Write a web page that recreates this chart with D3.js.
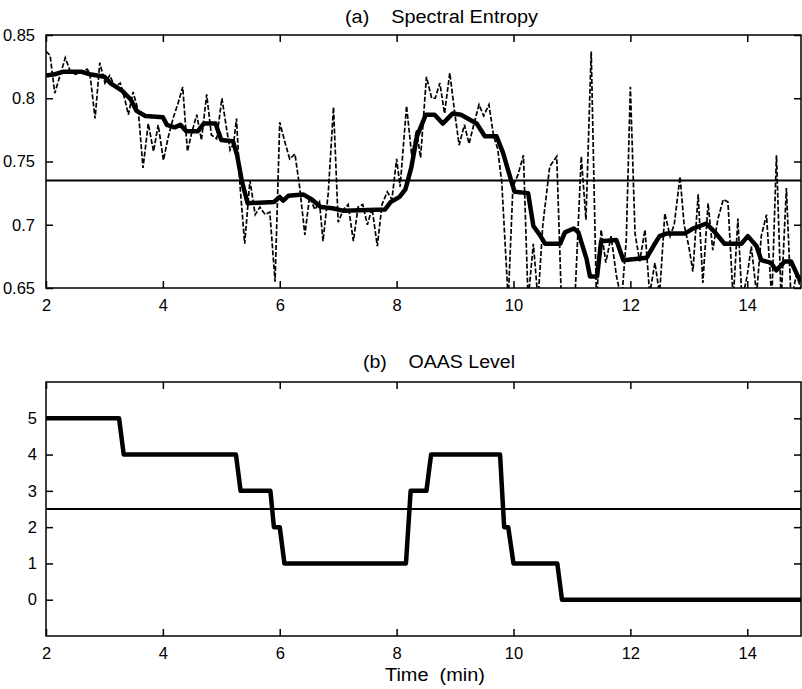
<!DOCTYPE html>
<html>
<head>
<meta charset="utf-8">
<script src="https://cdn.jsdelivr.net/npm/d3@7/dist/d3.min.js"></script>
<style>
  html, body { margin: 0; padding: 0; background: #fff; }
  svg { display: block; }
  text { font-family: "Liberation Sans", Arial, Helvetica, sans-serif; fill: #000; }
</style>
</head>
<body>
<svg id="chart" width="802" height="689"></svg>
<script>
// ---------- data ----------
const timeDomain = [2, 14.92];
const timeTicks = [2, 4, 6, 8, 10, 12, 14];

const entropyTicks = [0.65, 0.7, 0.75, 0.8, 0.85];
const entropyTickLabels = ["0.65", "0.7", "0.75", "0.8", "0.85"];
const entropyThreshold = 0.735;

const rawTime = [2.00,2.07,2.15,2.33,2.41,2.50,2.58,2.70,2.75,2.84,2.92,3.01,3.09,3.18,3.27,3.35,3.41,3.49,3.58,3.66,3.75,3.84,3.92,4.01,4.09,4.18,4.26,4.34,4.42,4.49,4.58,4.66,4.75,4.83,4.92,5.01,5.09,5.15,5.21,5.26,5.32,5.40,5.49,5.58,5.66,5.75,5.83,5.92,6.00,6.09,6.17,6.26,6.34,6.43,6.51,6.60,6.68,6.74,6.83,6.92,7.00,7.09,7.17,7.26,7.34,7.42,7.50,7.58,7.67,7.75,7.84,7.92,8.00,8.06,8.17,8.26,8.34,8.41,8.51,8.60,8.66,8.74,8.82,8.91,8.99,9.07,9.16,9.24,9.32,9.41,9.49,9.58,9.66,9.73,9.80,9.91,9.99,10.08,10.17,10.25,10.34,10.42,10.50,10.62,10.74,10.82,10.95,11.05,11.16,11.24,11.33,11.42,11.50,11.58,11.67,11.76,11.85,11.93,12.00,12.08,12.16,12.25,12.33,12.42,12.50,12.59,12.68,12.75,12.85,12.92,13.00,13.07,13.16,13.24,13.33,13.41,13.50,13.59,13.67,13.76,13.84,13.91,14.00,14.07,14.16,14.24,14.33,14.42,14.50,14.58,14.67,14.75,14.84,14.92];
const rawEntropy = [0.837,0.834,0.804,0.832,0.822,0.819,0.820,0.823,0.820,0.784,0.828,0.812,0.818,0.809,0.812,0.799,0.787,0.805,0.790,0.745,0.780,0.758,0.779,0.751,0.769,0.785,0.796,0.809,0.758,0.772,0.787,0.767,0.803,0.771,0.768,0.800,0.776,0.759,0.764,0.784,0.731,0.685,0.735,0.708,0.714,0.708,0.710,0.655,0.781,0.765,0.752,0.756,0.730,0.692,0.722,0.712,0.718,0.687,0.725,0.793,0.702,0.712,0.716,0.687,0.714,0.716,0.700,0.713,0.683,0.716,0.726,0.720,0.752,0.730,0.794,0.754,0.775,0.753,0.817,0.800,0.800,0.812,0.788,0.820,0.790,0.763,0.779,0.764,0.779,0.795,0.786,0.795,0.770,0.760,0.733,0.640,0.730,0.740,0.755,0.640,0.685,0.640,0.699,0.746,0.754,0.640,0.630,0.640,0.754,0.704,0.837,0.640,0.696,0.670,0.691,0.660,0.640,0.688,0.809,0.693,0.671,0.696,0.645,0.670,0.645,0.709,0.691,0.700,0.738,0.700,0.683,0.663,0.724,0.654,0.717,0.680,0.705,0.720,0.718,0.640,0.705,0.640,0.660,0.683,0.645,0.691,0.708,0.640,0.755,0.640,0.729,0.640,0.660,0.650];

const smoothTime = [2.00,2.15,2.30,2.60,2.75,3.00,3.10,3.30,3.45,3.55,3.70,4.00,4.07,4.20,4.30,4.40,4.60,4.70,4.90,5.00,5.20,5.27,5.35,5.45,5.90,6.00,6.06,6.15,6.40,6.55,6.70,6.90,7.10,7.80,7.90,8.05,8.15,8.25,8.35,8.50,8.65,8.79,8.96,9.10,9.37,9.51,9.71,9.82,9.94,10.02,10.25,10.34,10.45,10.54,10.80,10.88,11.03,11.11,11.25,11.31,11.43,11.50,11.76,11.88,12.28,12.42,12.50,12.62,12.93,13.07,13.30,13.45,13.61,13.90,14.01,14.16,14.24,14.40,14.50,14.64,14.75,14.87,14.92];
const smoothEntropy = [0.818,0.819,0.821,0.821,0.819,0.817,0.812,0.806,0.799,0.790,0.786,0.785,0.779,0.777,0.779,0.774,0.774,0.780,0.780,0.767,0.766,0.755,0.735,0.717,0.718,0.722,0.719,0.723,0.724,0.720,0.714,0.713,0.711,0.712,0.718,0.722,0.728,0.745,0.770,0.787,0.787,0.780,0.788,0.787,0.780,0.770,0.770,0.757,0.738,0.726,0.725,0.699,0.692,0.685,0.685,0.694,0.697,0.694,0.673,0.659,0.659,0.687,0.688,0.672,0.674,0.685,0.691,0.693,0.693,0.697,0.701,0.694,0.685,0.685,0.691,0.683,0.672,0.670,0.664,0.671,0.671,0.659,0.655];

const levelTicks = [0, 1, 2, 3, 4, 5];
const levelDomain = [-1, 6];
const levelThreshold = 2.5;
const levelTime = [2.00,3.25,3.33,5.25,5.33,5.84,5.90,6.00,6.08,8.16,8.24,8.51,8.59,9.77,9.84,9.91,10.00,10.75,10.83,14.92];
const levelValue = [5,5,4,4,3,3,2,2,1,1,3,3,4,4,2,2,1,1,0,0];

const titleA = "(a)    Spectral Entropy";
const titleB = "(b)    OAAS Level";
const xLabel = "Time  (min)";

// ---------- layout ----------
const svg = d3.select("#chart");
const L = 46, R = 801;
const topA = 35, botA = 288;
const topB = 382, botB = 636;
const tickLen = 7;

const x = d3.scaleLinear().domain(timeDomain).range([L, R]);
const yA = d3.scaleLinear().domain([0.65, 0.85]).range([botA, topA]);
const yB = d3.scaleLinear().domain(levelDomain).range([botB, topB]);

const defs = svg.append("defs");
defs.append("clipPath").attr("id", "clipA").append("rect")
  .attr("x", L).attr("y", topA).attr("width", R - L).attr("height", botA - topA);
defs.append("clipPath").attr("id", "clipB").append("rect")
  .attr("x", L).attr("y", topB).attr("width", R - L).attr("height", botB - topB);

function panel(yScale, top, bot, yTicks, yLabels, labelRight) {
  const g = svg.append("g");
  const fmt = (d, i) => yLabels ? yLabels[i] : String(d);
  const xb = g.append("g").attr("transform", `translate(0,${bot})`)
    .call(d3.axisBottom(x).tickValues(timeTicks).tickSize(-tickLen).tickPadding(tickLen + 4).tickFormat(d3.format("d")));
  const xt = g.append("g").attr("transform", `translate(0,${top})`)
    .call(d3.axisTop(x).tickValues(timeTicks).tickSize(-tickLen).tickFormat(""));
  const yl = g.append("g").attr("transform", `translate(${L},0)`)
    .call(d3.axisLeft(yScale).tickValues(yTicks).tickSize(-tickLen).tickPadding(labelRight).tickFormat(fmt));
  const yr = g.append("g").attr("transform", `translate(${R},0)`)
    .call(d3.axisRight(yScale).tickValues(yTicks).tickSize(-tickLen).tickFormat(""));
  [xb, xt, yl, yr].forEach(a => {
    a.select(".domain").remove();
    a.selectAll(".tick line").attr("stroke", "#000").attr("stroke-width", 1.5);
    a.selectAll(".tick text").attr("font-size", 16.5).attr("font-family", '"Liberation Sans", Arial, sans-serif').attr("fill", "#000");
  });
  g.append("rect").attr("x", L).attr("y", top).attr("width", R - L).attr("height", bot - top)
    .attr("fill", "none").attr("stroke", "#000").attr("stroke-width", 1.5);
  return g;
}

// ---------- panel (a) ----------
panel(yA, topA, botA, entropyTicks, entropyTickLabels, tickLen + 4);
const marksA = svg.append("g").attr("clip-path", "url(#clipA)");
const rawData = rawTime.map((t, i) => [t, rawEntropy[i]]);
const smoothData = smoothTime.map((t, i) => [t, smoothEntropy[i]]);
marksA.append("path").datum(rawData)
  .attr("d", d3.line().x(d => x(d[0])).y(d => yA(d[1])))
  .attr("fill", "none").attr("stroke", "#000").attr("stroke-width", 1.7)
  .attr("stroke-dasharray", "5,2");
marksA.append("line")
  .attr("x1", L).attr("x2", R).attr("y1", yA(entropyThreshold)).attr("y2", yA(entropyThreshold))
  .attr("stroke", "#000").attr("stroke-width", 2);
marksA.append("path").datum(smoothData)
  .attr("d", d3.line().x(d => x(d[0])).y(d => yA(d[1])))
  .attr("fill", "none").attr("stroke", "#000").attr("stroke-width", 4.5)
  .attr("stroke-linejoin", "round");

svg.append("text").attr("x", 345).attr("y", 23).attr("font-size", 18)
  .attr("textLength", 193).attr("lengthAdjust", "spacingAndGlyphs")
  .style("white-space", "pre").text(titleA);

// ---------- panel (b) ----------
panel(yB, topB, botB, levelTicks, null, tickLen + 2);
const marksB = svg.append("g").attr("clip-path", "url(#clipB)");
marksB.append("line")
  .attr("x1", L).attr("x2", R).attr("y1", yB(levelThreshold)).attr("y2", yB(levelThreshold))
  .attr("stroke", "#000").attr("stroke-width", 2);
const levelData = levelTime.map((t, i) => [t, levelValue[i]]);
marksB.append("path").datum(levelData)
  .attr("d", d3.line().x(d => x(d[0])).y(d => yB(d[1])))
  .attr("fill", "none").attr("stroke", "#000").attr("stroke-width", 4.5)
  .attr("stroke-linejoin", "round");

svg.append("text").attr("x", 363).attr("y", 368).attr("font-size", 18)
  .attr("textLength", 152).attr("lengthAdjust", "spacingAndGlyphs")
  .style("white-space", "pre").text(titleB);

svg.append("text").attr("x", 385).attr("y", 681).attr("font-size", 18)
  .attr("textLength", 100).attr("lengthAdjust", "spacingAndGlyphs")
  .style("white-space", "pre").text(xLabel);
</script>
</body>
</html>
